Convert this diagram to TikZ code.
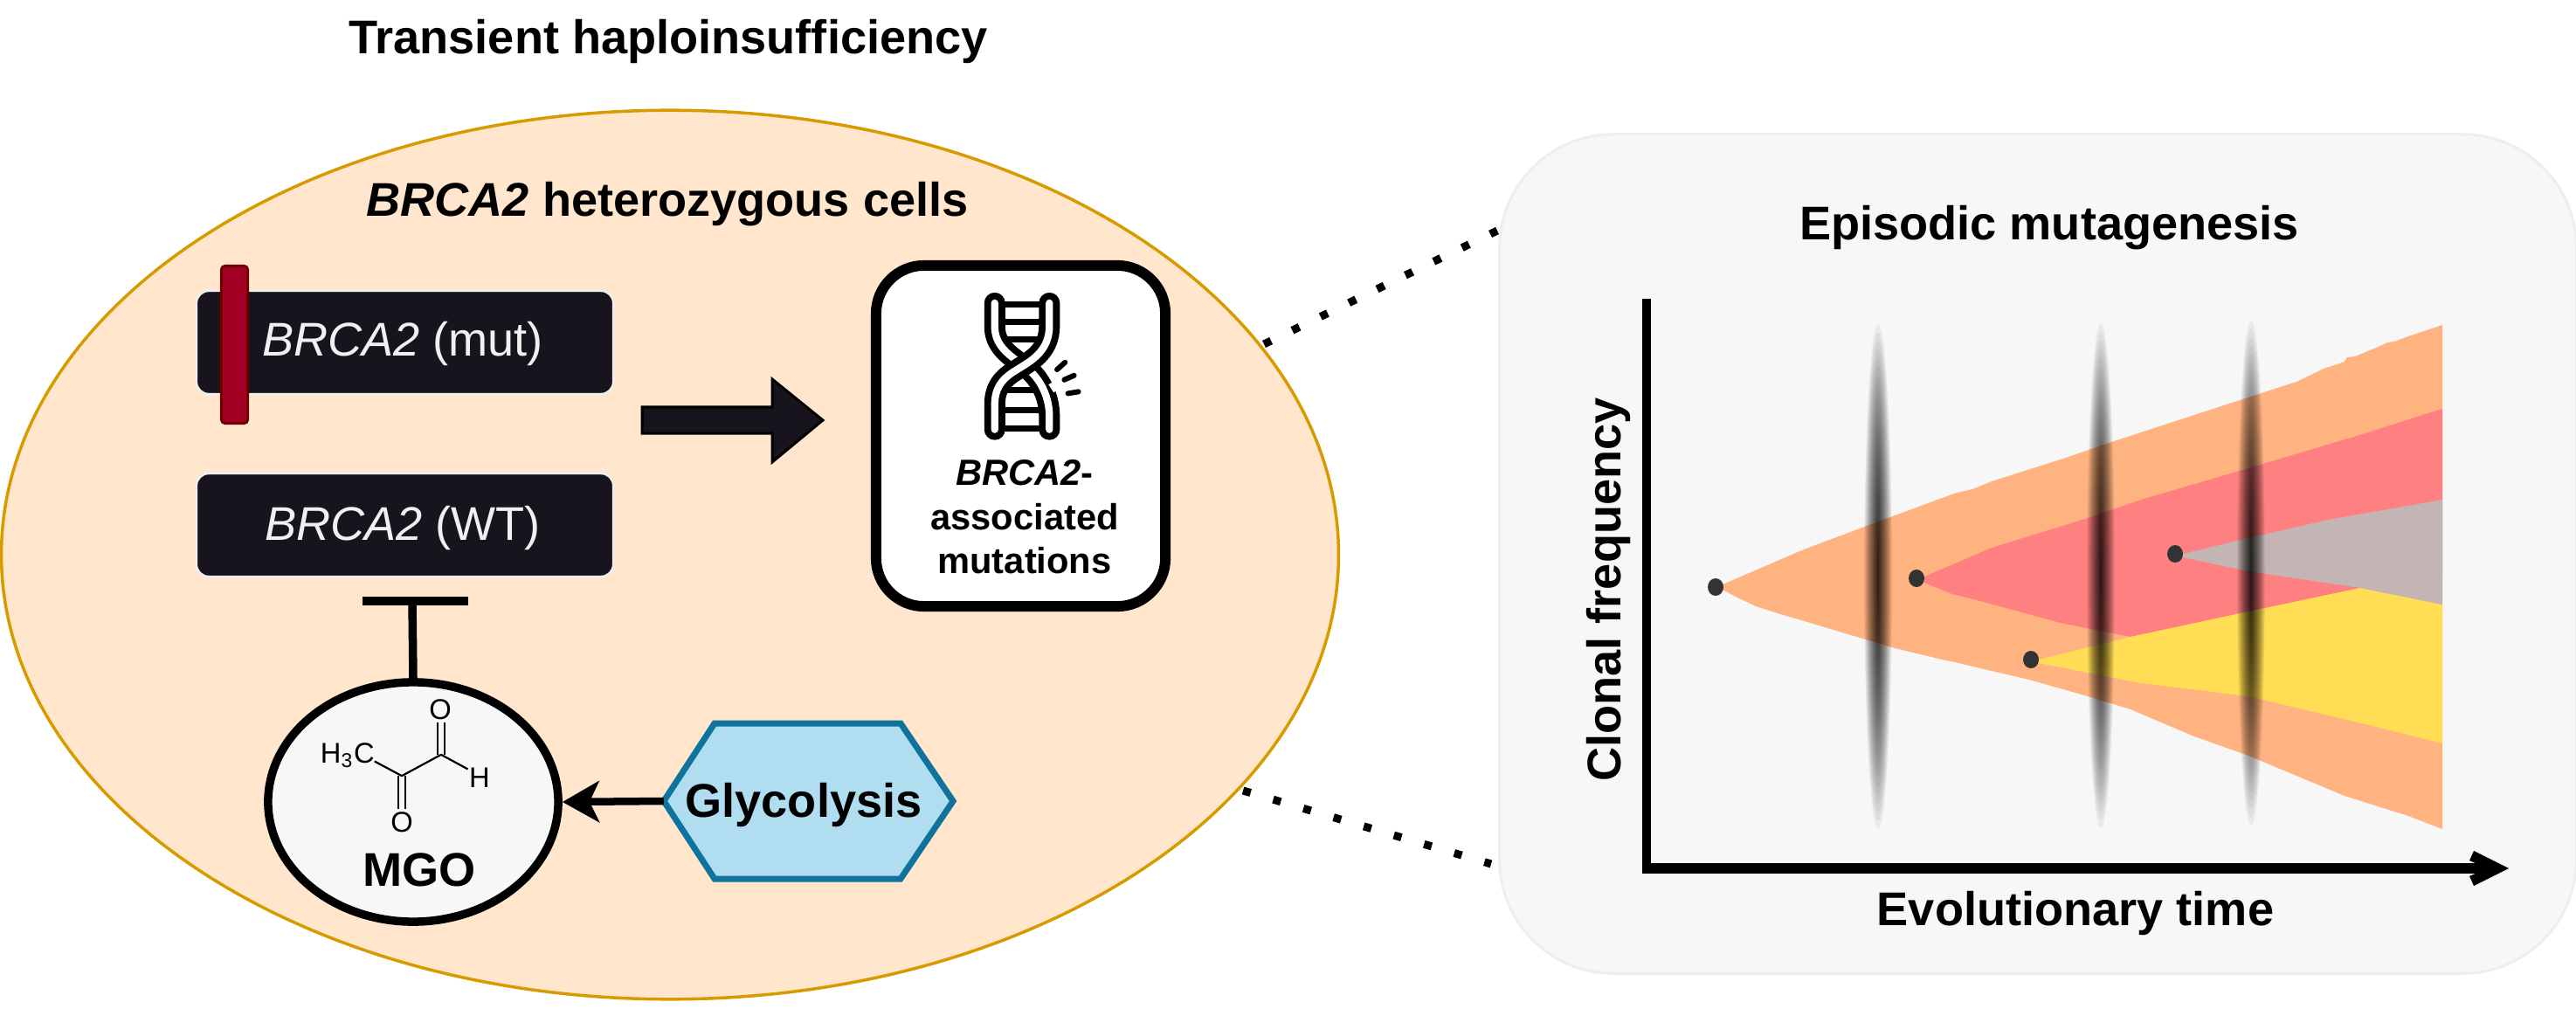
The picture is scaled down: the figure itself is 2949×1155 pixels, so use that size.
\documentclass[tikz,border=0pt]{standalone}
\usepackage{fontspec}
\setmainfont{Liberation Sans}
\usetikzlibrary{shapes.geometric,arrows.meta}
\definecolor{cellfill}{HTML}{FFE6CC}
\definecolor{celldraw}{HTML}{D79B00}
\definecolor{panelfill}{HTML}{F7F7F7}
\definecolor{paneldraw}{HTML}{EEEEEE}
\definecolor{genefill}{HTML}{18141D}
\definecolor{genedraw}{HTML}{F0F0F0}
\definecolor{barfill}{HTML}{A20025}
\definecolor{bardraw}{HTML}{6F0000}
\definecolor{hexfill}{HTML}{B1DDF0}
\definecolor{hexdraw}{HTML}{10739E}
\definecolor{cloneorange}{HTML}{FFB380}
\definecolor{clonered}{HTML}{FF8080}
\definecolor{clonegrey}{HTML}{C4B5B5}
\definecolor{cloneyellow}{HTML}{FFDD55}
\definecolor{dotgrey}{HTML}{333333}
\tikzset{
  bigtext/.style={font=\fontsize{15.4}{18}\selectfont,inner sep=0,outer sep=0},
  boldtext/.style={bigtext,font=\fontsize{15.4}{18}\selectfont\bfseries},
  genebox/.style={draw=genedraw,fill=genefill,line width=0.025cm,rounded corners=0.14cm,minimum width=4.77cm,minimum height=1.18cm,inner sep=0},
  genetext/.style={bigtext,text=genedraw},
  dotline/.style={line width=0.09cm,dash pattern=on 0.09cm off 0.27cm},
  heavy/.style={line width=0.095cm},
  dnaout/.style={line width=0.24cm,line cap=round,black},
  dnain/.style={line width=0.083cm,line cap=round,white},
  rung/.style={line width=0.0667cm,black},
  spark/.style={line width=0.06cm,line cap=round,black},
  bond/.style={line width=0.022cm,black},
  atom/.style={font=\fontsize{9.3}{11}\selectfont,inner sep=0,outer sep=0},
  blurlayer/.style={black,opacity=0.05},
  clonedot/.style={fill=dotgrey,draw=none,ellipse,minimum width=0.18cm,minimum height=0.2cm,inner sep=0},
}
\begin{document}
\begin{tikzpicture}[x=0.01cm,y=-0.01cm]
\useasboundingbox (0,0) rectangle (2949,1155);
% cell
\node[draw=celldraw,fill=cellfill,line width=0.035cm,ellipse,inner sep=0,minimum width=15.3cm,minimum height=10.17cm] (cell) at (767,635) {};
% panel
\node[draw=paneldraw,fill=panelfill,line width=0.03cm,rounded corners=1.3cm,inner sep=0,minimum width=12.32cm,minimum height=9.6cm] (panel) at (2333,634) {};
% titles
\node[boldtext,anchor=base] (title) at (765,62) {Transient haploinsufficiency};
\node[boldtext,anchor=base] (celltitle) at (764,248) {\textit{BRCA2} heterozygous cells};
\node[boldtext,anchor=base] (paneltitle) at (2346,275) {Episodic mutagenesis};
% gene boxes
\node[genebox] (mut) at (463.5,392) {};
\node[genebox] (wt) at (463.5,601) {};
\node[genetext,anchor=base] (muttext) at (461,408) {\textit{BRCA2} (mut)};
\node[genetext,anchor=base] (wttext) at (461,618) {\textit{BRCA2} (WT)};
\node[draw=bardraw,fill=barfill,line width=0.03cm,rounded corners=0.04cm,minimum width=0.3cm,minimum height=1.8cm,inner sep=0] (bar) at (268.5,394.5) {};
% big arrow
\fill[genefill,draw=black,line width=0.03cm,line join=miter] (735,466) -- (884,466) -- (884,434) -- (942,481) -- (884,529) -- (884,496) -- (735,496) -- cycle;
% mutation box
\node[draw=black,fill=white,line width=0.12cm,rounded corners=0.55cm,minimum width=3.31cm,minimum height=3.9cm,inner sep=0] (mutbox) at (1168.5,499) {};
\begin{scope}[shift={(980,280)},x=0.003333cm,y=-0.003333cm]
  \draw[rung] (480,205) -- (660,205) (480,265) -- (660,265) (490,327) -- (650,327);
  \draw[rung] (490,500) -- (650,500) (480,570) -- (660,570) (480,632) -- (660,632);
  \draw[dnaout] (477,201) -- (477,280) .. controls (477,345) and (520,375) .. (570,412) .. controls (630,450) and (665,520) .. (665,590) -- (665,636);
  \draw[dnain] (477,201) -- (477,280) .. controls (477,345) and (520,375) .. (570,412) .. controls (630,450) and (665,520) .. (665,590) -- (665,636);
  \draw[white,line width=0.08cm] (672,475) -- (690,502);
  \draw[dnaout] (477,636) -- (477,550) .. controls (477,470) and (530,445) .. (570,420) .. controls (610,395) and (665,360) .. (665,280) -- (665,201);
  \draw[dnain] (477,636) -- (477,550) .. controls (477,470) and (530,445) .. (570,420) .. controls (610,395) and (665,360) .. (665,280) -- (665,201);
  \draw[spark] (691,430) -- (719,405) (716,465) -- (750,450) (729,512) -- (765,506);
\end{scope}
\node[bigtext,font=\fontsize{11.85}{14.37}\selectfont\bfseries,align=center] (mutlabel) at (1173,592) {\textit{BRCA2}-\\associated\\mutations};
% MGO
\node[draw=black,fill=panelfill,line width=0.095cm,ellipse,inner sep=0,minimum width=3.32cm,minimum height=2.74cm] (mgo) at (473,918) {};
\node[boldtext,anchor=base] (mgotext) at (480,1014) {MGO};
\begin{scope}[shift={(280,760)},x=0.003333cm,y=-0.003333cm]
  \node[atom] (ch3) at (354,315) {H\textsubscript{3}C};
  \node[atom] (oa) at (673,158) {O};
  \node[atom] (ob) at (541,545) {O};
  \node[atom] (h) at (808,392) {H};
  \coordinate (ca) at (541,385);
  \coordinate (cb) at (676,312);
  \draw[bond,line join=round] (447,335) -- (ca) -- (cb) -- (768,362);
  \draw[bond] (665,312) -- (665,202) (687,312) -- (687,202);
  \draw[bond] (530,385) -- (530,500) (552,385) -- (552,500);
\end{scope}
% glycolysis
\node[inner sep=0,outer sep=0,minimum width=3.31cm,minimum height=1.78cm] (glyc) at (925.5,917) {};
\draw[draw=hexdraw,fill=hexfill,line width=0.07cm,line join=miter] (glyc.west) -- (818,828) -- (1031,828) -- (glyc.east) -- (1031,1006) -- (818,1006) -- cycle;
\node[boldtext,anchor=base] (glyctext) at (920,935) {Glycolysis};
% connectors
\draw[line width=0.085cm,-{Stealth[length=0.42cm,width=0.47cm,inset=0.11cm]}] (glyc.west) -- (mgo.east);
\coordinate (tbar) at (472,688);
\coordinate (tbarl) at (415,688);
\coordinate (tbarr) at (536,688);
\draw[heavy] (mgo.north) -- (tbar);
\draw[heavy] (tbarl) -- (tbarr);
% dotted zoom lines
\coordinate (dota) at (1447,394);
\coordinate (dotb) at (1714,264);
\coordinate (dotc) at (1423,905);
\coordinate (dotd) at (1707,989);
\draw[dotline] (dota) -- (dotb);
\draw[dotline] (dotc) -- (dotd);
% clones
\fill[cloneorange] (1972,669) -- (2065,629) -- (2145,599) -- (2218,572) -- (2240,564) -- (2258,560) -- (2280,551) -- (2365,524) -- (2408,509) -- (2512,475) -- (2629,437) -- (2660,422) -- (2684,414) -- (2687,409) -- (2696,408) -- (2725,396) -- (2733,392) -- (2741,391) -- (2757,385) -- (2796,372) -- (2796,949) -- (2757,934) -- (2684,911) -- (2574,865) -- (2512,843) -- (2439,812) -- (2390,797) -- (2323,778) -- (2280,768) -- (2234,757) -- (2232,757) -- (2169,742) -- (2059,709) -- (2035,702) -- (2010,694) -- (1989,684) -- (1972,675) -- cycle;
\fill[clonered] (2203,660) -- (2280,627) -- (2390,593) -- (2451,572) -- (2574,536) -- (2708,496) -- (2764,478) -- (2770,476) -- (2796,468) -- (2796,660) -- (2702,673) -- (2439,729) -- (2359,713) -- (2267,688) -- (2235,680) -- (2203,667) -- cycle;
\fill[cloneyellow] (2334,755) -- (2439,729) -- (2574,700) -- (2702,673) -- (2796,692) -- (2796,851) -- (2708,829) -- (2574,797) -- (2451,782) -- (2334,759) -- cycle;
\fill[clonegrey] (2499,634) -- (2574,616) -- (2665,595) -- (2796,572) -- (2796,692) -- (2702,673) -- (2574,654) -- (2499,638) -- cycle;
% episodes
\foreach \cx/\cy in {2150/660,2405/659,2577/656}{
  \foreach \k in {0,...,29}{
    \fill[blurlayer] (\cx,\cy) ellipse [x radius={16*(1-\k/30)^1.5}, y radius={289*(1-\k/30)}];
  }
}
% founders
\node[clonedot] (f1) at (1964,672) {};
\node[clonedot] (f2) at (2194,662) {};
\node[clonedot] (f3) at (2490,634) {};
\node[clonedot] (f4) at (2325,755) {};
% axes
\coordinate (origin) at (1885,994);
\coordinate (ytop) at (1885,342);
\coordinate (xend) at (2850,994);
\draw[line width=0.1cm] (ytop) -- (origin);
\draw[line width=0.12cm] (1880,994) -- (xend);
\fill[black] (2872,994) -- (2832,974) -- (2827,985) -- (2838,990) -- (2838,998) -- (2827,1003) -- (2832,1014) -- cycle;
\node[boldtext,anchor=base,rotate=90] (ylabel) at (1855,675) {Clonal frequency};
\node[boldtext,anchor=base] (xlabel) at (2376,1059) {Evolutionary time};
\end{tikzpicture}
\end{document}
